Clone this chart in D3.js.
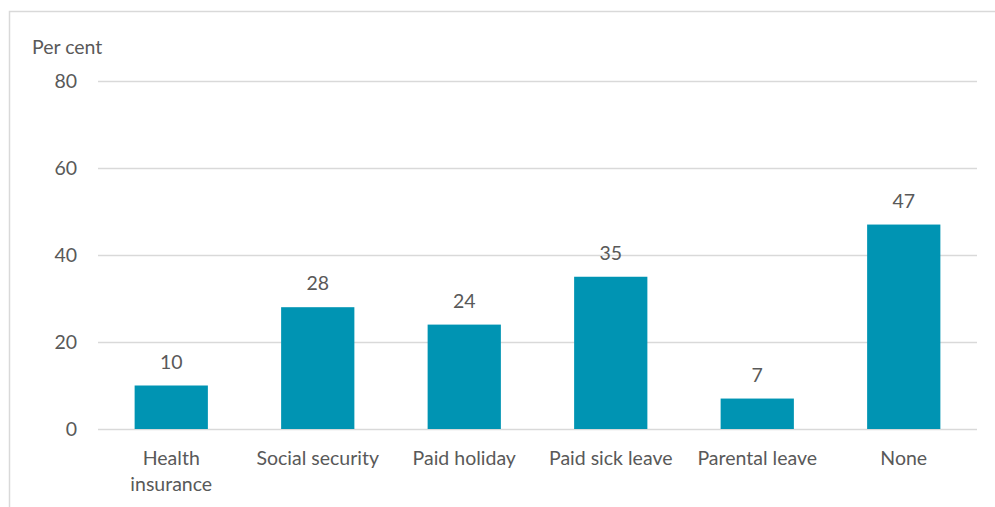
<!DOCTYPE html>
<html>
<head>
<meta charset="utf-8">
<script src="https://cdn.jsdelivr.net/npm/d3@7"></script>
<style>
  html, body { margin: 0; padding: 0; background: #fff; }
  svg { display: block; font-family: Lato, "Noto Sans", sans-serif; }
</style>
</head>
<body>
<svg id="chart" width="995" height="507"></svg>
<script>
// Share of workers receiving each benefit
const categories = [["Health", "insurance"], ["Social security"], ["Paid holiday"], ["Paid sick leave"], ["Parental leave"], ["None"]];
const values = [10, 28, 24, 35, 7, 47];
const yTicks = [0, 20, 40, 60, 80];
const yTitle = "Per cent";

const svg = d3.select("#chart");
const W = 995, H = 507;
const margin = { left: 98, right: 18, top: 81, bottom: 78 };
const textColor = "#595959";
const gridColor = "#d9d9d9";
const barColor = "#0094b3";
const fontSize = 19.5;

// frame around the chart area
svg.append("rect")
  .attr("x", 9.5).attr("y", 11.5)
  .attr("width", W + 20).attr("height", H + 20)
  .attr("fill", "none").attr("stroke", gridColor).attr("stroke-width", 1.5);

const x = d3.scaleBand()
  .domain(categories.map((d, i) => i))
  .range([margin.left, W - margin.right])
  .paddingInner(0.5).paddingOuter(0.25);

const y = d3.scaleLinear().domain([0, 80]).range([H - margin.bottom, margin.top]);

// gridlines and y labels
const yAxis = d3.axisLeft(y).tickValues(yTicks)
  .tickSize(-(W - margin.right - margin.left)).tickPadding(21);
const gy = svg.append("g").attr("transform", `translate(${margin.left},0)`).call(yAxis);
gy.select(".domain").remove();
gy.selectAll(".tick line").attr("stroke", gridColor).attr("stroke-width", 1.5);
gy.selectAll(".tick text").attr("fill", textColor).attr("font-size", fontSize).attr("font-family", "Lato, 'Noto Sans', sans-serif");

svg.append("text").attr("x", 32).attr("y", 54)
  .attr("fill", textColor).attr("font-size", fontSize).text(yTitle);

// bars
svg.selectAll("rect.bar").data(values).join("rect")
  .attr("class", "bar")
  .attr("x", (d, i) => x(i))
  .attr("y", d => y(d))
  .attr("width", x.bandwidth())
  .attr("height", d => y(0) - y(d))
  .attr("fill", barColor);

// value labels
svg.selectAll("text.val").data(values).join("text")
  .attr("class", "val")
  .attr("x", (d, i) => x(i) + x.bandwidth() / 2)
  .attr("y", d => y(d) - 17)
  .attr("text-anchor", "middle")
  .attr("fill", textColor).attr("font-size", fontSize)
  .text(d => d);

// category labels
const cat = svg.selectAll("text.cat").data(categories).join("text")
  .attr("class", "cat")
  .attr("text-anchor", "middle")
  .attr("fill", textColor).attr("font-size", fontSize);
cat.selectAll("tspan").data(d => d).join("tspan")
  .attr("x", function () { const i = categories.indexOf(d3.select(this.parentNode).datum()); return x(i) + x.bandwidth() / 2; })
  .attr("y", (d, j) => y(0) + 36 + j * 26)
  .text(d => d);
</script>
</body>
</html>
